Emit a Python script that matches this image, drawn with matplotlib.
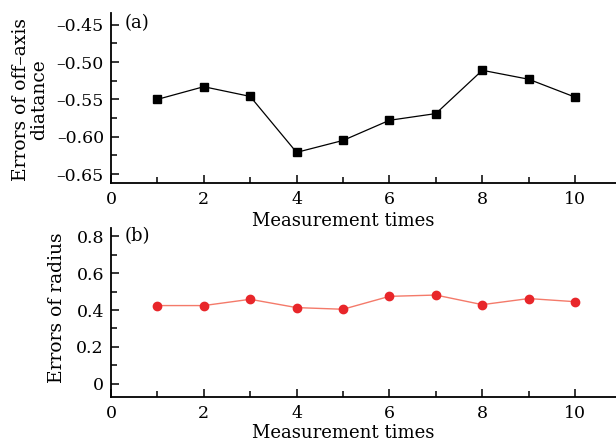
import matplotlib
matplotlib.use("Agg")
import matplotlib.pyplot as plt
from matplotlib.ticker import MultipleLocator

times = [1, 2, 3, 4, 5, 6, 7, 8, 9, 10]
off_axis_err = [-0.550, -0.533, -0.546, -0.621, -0.605, -0.578, -0.569, -0.511, -0.523, -0.547]
radius_err = [0.424, 0.424, 0.458, 0.413, 0.404, 0.474, 0.481, 0.429, 0.462, 0.445]
x_ticks = [0, 2, 4, 6, 8, 10]
off_axis_ticks = [-0.65, -0.60, -0.55, -0.50, -0.45]
radius_ticks = [0, 0.2, 0.4, 0.6, 0.8]

plt.rcParams["font.family"] = ["DejaVu Serif"]

fig = plt.figure(figsize=(6.16, 4.42), dpi=100)
ax1 = fig.add_axes([0.180, 0.586, 0.820, 0.385])
ax2 = fig.add_axes([0.180, 0.102, 0.820, 0.382])

XMAX = 10.88
TICK_FS = 12.5
LABEL_FS = 13


def style(ax, label_y):
    ax.spines["top"].set_visible(False)
    ax.spines["right"].set_visible(False)
    ax.spines["left"].set_linewidth(1.3)
    ax.spines["bottom"].set_linewidth(1.3)
    ax.set_xlim(0, XMAX)
    ax.set_xticks(x_ticks)
    ax.xaxis.set_minor_locator(MultipleLocator(1))
    ax.tick_params(which="both", direction="in", labelsize=TICK_FS, width=1.1)
    ax.tick_params(which="major", length=6)
    ax.tick_params(which="minor", length=4)
    ax.tick_params(axis="x", which="major", pad=6)
    ax.tick_params(axis="y", which="major", pad=5)
    ax.set_xlabel("Measurement times", fontsize=LABEL_FS)
    ax.xaxis.set_label_coords(5.0 / XMAX, label_y)


# (a) off-axis distance
ax1.plot(times, off_axis_err, color="black", lw=0.9, marker="s", ms=5.3)
ax1.set_ylim(-0.662, -0.434)
ax1.set_yticks(off_axis_ticks)
ax1.set_yticklabels([f"\u2013{abs(v):.2f}" for v in off_axis_ticks])
ax1.yaxis.set_minor_locator(MultipleLocator(0.025))
style(ax1, -0.17)
ax1.text(0.3, -0.448, "(a)", fontsize=LABEL_FS, va="center")
fig.text(30 / 616, 1 - 99.5 / 442, "Errors of off\u2013axis\ndiatance", fontsize=13.5,
         rotation=90, ha="center", va="center", linespacing=1.0, multialignment="center")

# (b) radius
ax2.plot(times, radius_err, color="#f47a6a", lw=1.0)
ax2.plot(times, radius_err, ls="none", marker="o", ms=6, color="#e8262a")
ax2.set_ylim(-0.071, 0.844)
ax2.set_yticks(radius_ticks)
ax2.set_yticklabels(["0", "0.2", "0.4", "0.6", "0.8"])
ax2.yaxis.set_minor_locator(MultipleLocator(0.1))
style(ax2, -0.162)
ax2.text(0.3, 0.8, "(b)", fontsize=LABEL_FS, va="center")
fig.text(57 / 616, 1 - 308 / 442, "Errors of radius", fontsize=13.5,
         rotation=90, ha="center", va="center")

fig.savefig("out.png", dpi=100)
